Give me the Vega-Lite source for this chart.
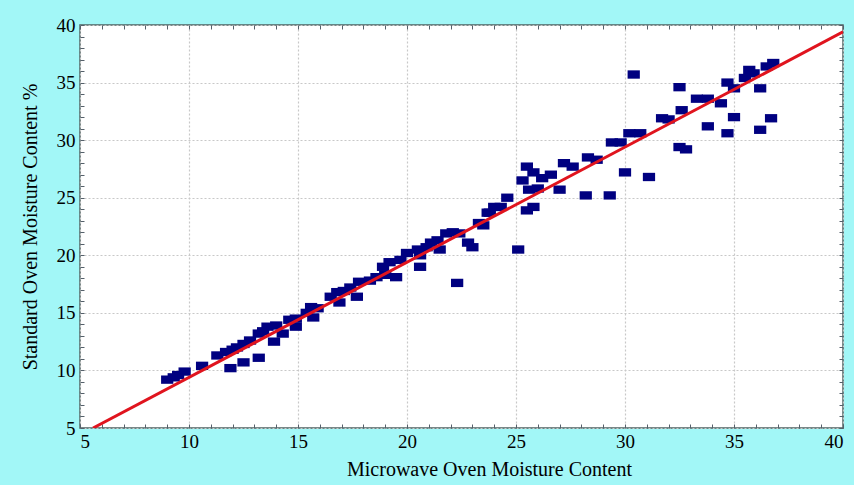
{
  "$schema": "https://vega.github.io/schema/vega-lite/v6.json",
  "width": 763,
  "height": 403,
  "autosize": {"type": "none"},
  "padding": {"left": 80, "top": 25, "right": 11, "bottom": 57},
  "background": "#a2f7f7",
  "config": {
    "view": {"stroke": "#4f6262", "strokeWidth": 1.5, "fill": "white"},
    "axis": {
      "labelFont": "Liberation Serif",
      "labelFontSize": 19,
      "labelColor": "black",
      "titleFont": "Liberation Serif",
      "titleFontSize": 20,
      "titleFontWeight": "normal",
      "titleColor": "black",
      "domain": false,
      "tickColor": "#55606a",
      "tickSize": -4,
      "tickWidth": 1,
      "gridColor": "#c8c8c8",
      "gridDash": [2, 2],
      "gridWidth": 1.2
    }
  },
  "resolve": {"axis": {"x": "independent", "y": "independent"}},
  "layer": [
    {
      "data": {
        "values": [
          {"mx": 9.0, "sy": 9.2}, {"mx": 9.3, "sy": 9.4}, {"mx": 9.5, "sy": 9.6}, {"mx": 9.8, "sy": 9.9},
          {"mx": 10.6, "sy": 10.4}, {"mx": 11.3, "sy": 11.3}, {"mx": 11.7, "sy": 11.6}, {"mx": 12.0, "sy": 11.8},
          {"mx": 11.9, "sy": 10.2}, {"mx": 12.5, "sy": 10.7}, {"mx": 13.2, "sy": 11.1}, {"mx": 12.2, "sy": 12.0},
          {"mx": 12.5, "sy": 12.3}, {"mx": 12.8, "sy": 12.6}, {"mx": 13.2, "sy": 13.2}, {"mx": 13.6, "sy": 13.8},
          {"mx": 13.4, "sy": 13.4}, {"mx": 13.9, "sy": 12.5}, {"mx": 14.3, "sy": 13.2}, {"mx": 14.0, "sy": 13.9},
          {"mx": 14.6, "sy": 14.4}, {"mx": 14.9, "sy": 14.5}, {"mx": 14.9, "sy": 13.8}, {"mx": 15.6, "sy": 15.5},
          {"mx": 15.9, "sy": 15.4}, {"mx": 15.7, "sy": 14.6}, {"mx": 15.4, "sy": 15.0}, {"mx": 16.5, "sy": 16.4},
          {"mx": 16.9, "sy": 15.9}, {"mx": 16.8, "sy": 16.8}, {"mx": 17.1, "sy": 16.9}, {"mx": 17.4, "sy": 17.2},
          {"mx": 17.8, "sy": 17.7}, {"mx": 17.7, "sy": 16.4}, {"mx": 18.3, "sy": 17.8}, {"mx": 18.6, "sy": 18.1},
          {"mx": 18.9, "sy": 19.0}, {"mx": 19.2, "sy": 19.4}, {"mx": 19.5, "sy": 18.1}, {"mx": 19.0, "sy": 18.3},
          {"mx": 19.7, "sy": 19.6}, {"mx": 20.0, "sy": 20.2}, {"mx": 20.5, "sy": 20.5}, {"mx": 20.6, "sy": 19.0},
          {"mx": 20.6, "sy": 20.0}, {"mx": 20.9, "sy": 20.7}, {"mx": 21.1, "sy": 21.1}, {"mx": 21.4, "sy": 21.3},
          {"mx": 21.5, "sy": 20.5}, {"mx": 21.8, "sy": 21.9}, {"mx": 22.1, "sy": 22.0}, {"mx": 22.4, "sy": 21.9},
          {"mx": 22.3, "sy": 17.6}, {"mx": 22.8, "sy": 21.1}, {"mx": 23.0, "sy": 20.7}, {"mx": 23.3, "sy": 22.8},
          {"mx": 23.5, "sy": 22.6}, {"mx": 23.7, "sy": 23.7}, {"mx": 24.0, "sy": 24.2}, {"mx": 23.8, "sy": 23.7},
          {"mx": 24.3, "sy": 24.2}, {"mx": 24.6, "sy": 25.0}, {"mx": 25.1, "sy": 20.5}, {"mx": 25.5, "sy": 27.7},
          {"mx": 25.8, "sy": 27.2}, {"mx": 25.6, "sy": 25.7}, {"mx": 25.3, "sy": 26.5}, {"mx": 25.5, "sy": 23.9},
          {"mx": 25.8, "sy": 24.2}, {"mx": 26.0, "sy": 25.8}, {"mx": 26.2, "sy": 26.7}, {"mx": 26.6, "sy": 27.0},
          {"mx": 27.0, "sy": 25.7}, {"mx": 27.2, "sy": 28.0}, {"mx": 27.6, "sy": 27.7}, {"mx": 28.2, "sy": 25.2},
          {"mx": 28.3, "sy": 28.5}, {"mx": 28.7, "sy": 28.3}, {"mx": 29.3, "sy": 25.2}, {"mx": 29.4, "sy": 29.8},
          {"mx": 29.8, "sy": 29.8}, {"mx": 30.0, "sy": 27.2}, {"mx": 30.2, "sy": 30.6}, {"mx": 30.7, "sy": 30.6},
          {"mx": 30.4, "sy": 35.7}, {"mx": 31.1, "sy": 26.8}, {"mx": 31.7, "sy": 31.9}, {"mx": 32.0, "sy": 31.8},
          {"mx": 32.5, "sy": 34.6}, {"mx": 32.6, "sy": 32.6}, {"mx": 32.5, "sy": 29.4}, {"mx": 32.8, "sy": 29.2},
          {"mx": 33.3, "sy": 33.6}, {"mx": 33.8, "sy": 33.6}, {"mx": 34.4, "sy": 33.2}, {"mx": 33.8, "sy": 31.2},
          {"mx": 34.7, "sy": 35.0}, {"mx": 35.0, "sy": 34.5}, {"mx": 34.7, "sy": 30.6}, {"mx": 35.0, "sy": 32.0},
          {"mx": 35.7, "sy": 36.1}, {"mx": 35.9, "sy": 35.8}, {"mx": 36.2, "sy": 34.5}, {"mx": 36.2, "sy": 30.9},
          {"mx": 36.7, "sy": 31.9}, {"mx": 36.8, "sy": 36.7}, {"mx": 36.5, "sy": 36.4}, {"mx": 35.5, "sy": 35.4}
        ]
      },
      "mark": {
        "type": "point",
        "shape": "M-1,-0.68L1,-0.68L1,0.68L-1,0.68Z",
        "filled": true,
        "size": 150,
        "color": "#000080",
        "opacity": 1,
        "strokeWidth": 0
      },
      "encoding": {
        "x": {
          "field": "mx", "type": "quantitative",
          "scale": {"domain": [5, 40], "nice": false, "zero": false},
          "axis": {
            "orient": "bottom",
            "title": "Microwave Oven Moisture Content",
            "values": [5,6,7,8,9,10,11,12,13,14,15,16,17,18,19,20,21,22,23,24,25,26,27,28,29,30,31,32,33,34,35,36,37,38,39,40],
            "labelExpr": "datum.value % 5 === 0 ? datum.label : ''",
            "gridOpacity": {"condition": {"test": "datum.value % 5 === 0", "value": 1}, "value": 0},
            "labelPadding": 8,
            "titlePadding": 8,
            "titleX": 409
          }
        },
        "y": {
          "field": "sy", "type": "quantitative",
          "scale": {"domain": [5, 40], "nice": false, "zero": false},
          "axis": {
            "orient": "left",
            "title": "Standard Oven Moisture Content %",
            "values": [5,6,7,8,9,10,11,12,13,14,15,16,17,18,19,20,21,22,23,24,25,26,27,28,29,30,31,32,33,34,35,36,37,38,39,40],
            "labelExpr": "datum.value % 5 === 0 ? datum.label : ''",
            "gridOpacity": {"condition": {"test": "datum.value % 5 === 0", "value": 1}, "value": 0},
            "labelPadding": 9,
            "titlePadding": 16
          }
        }
      }
    },
    {
      "data": {"values": [{"mx": 5.6, "sy": 5.0}, {"mx": 40.0, "sy": 39.4}]},
      "mark": {"type": "line", "color": "#e0141e", "strokeWidth": 3, "clip": true},
      "encoding": {
        "x": {
          "field": "mx", "type": "quantitative",
          "axis": {
            "orient": "top", "title": null, "labels": false, "grid": false,
            "values": [5,6,7,8,9,10,11,12,13,14,15,16,17,18,19,20,21,22,23,24,25,26,27,28,29,30,31,32,33,34,35,36,37,38,39,40]
          }
        },
        "y": {
          "field": "sy", "type": "quantitative",
          "axis": {
            "orient": "right", "title": null, "labels": false, "grid": false,
            "values": [5,6,7,8,9,10,11,12,13,14,15,16,17,18,19,20,21,22,23,24,25,26,27,28,29,30,31,32,33,34,35,36,37,38,39,40]
          }
        }
      }
    }
  ]
}
